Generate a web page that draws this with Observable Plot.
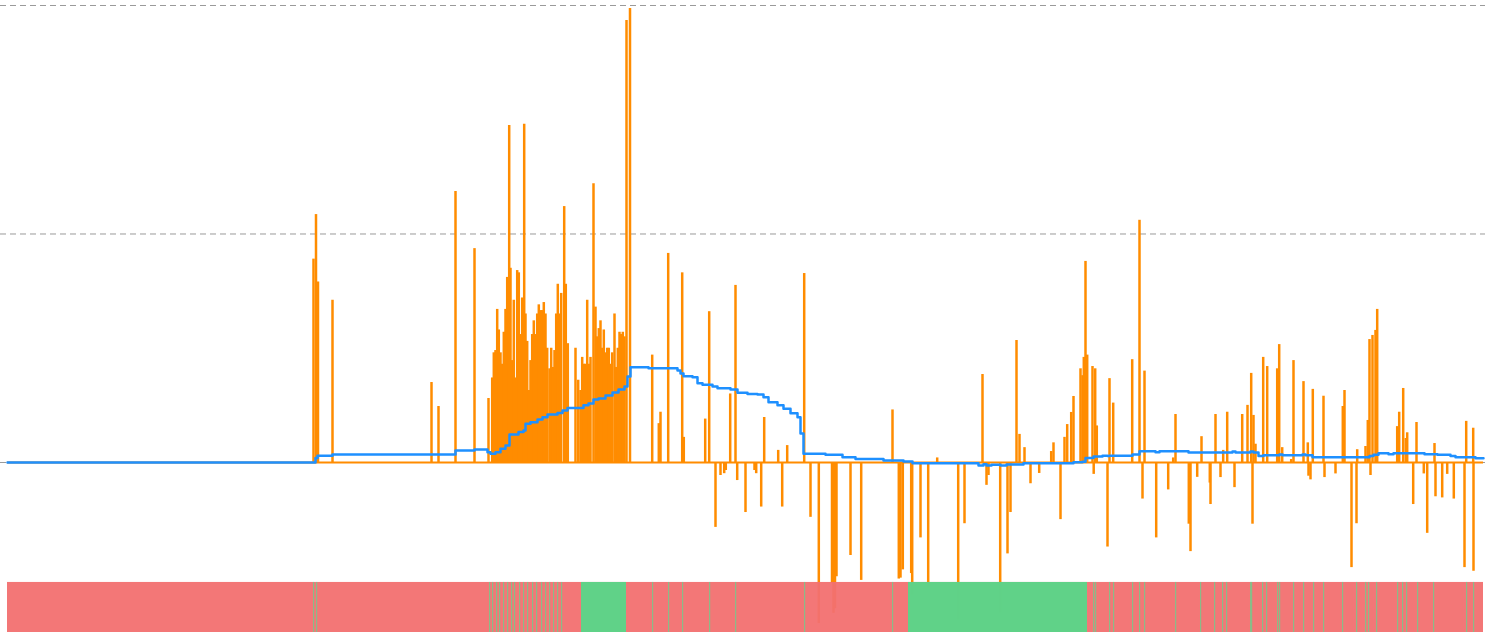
<!DOCTYPE html>
<html>
<head>
<meta charset="utf-8">
<script src="https://cdn.jsdelivr.net/npm/d3@7"></script>
<script src="https://cdn.jsdelivr.net/npm/@observablehq/plot@0.6"></script>
<style>
  html, body { margin: 0; padding: 0; background: #fff; overflow: hidden; }
  #chart svg { display: block; }
</style>
</head>
<body>
<div id="chart"></div>
<script>
// ---- data (time index) ----
const gridTicks = [0, 100, 200];

// orange series: non-zero samples [t, value]; all other samples are 0
const spikeT = [313,315.5,317.5,332,431,438,455,474,488,491.7,493.3,495,496.7,498.3,500,501.7,503.3,505,506.7,508.7,510,511.7,513.3,515,516.7,518.3,520,521.7,523.7,525,526.7,528.3,530,531.7,533.3,535,536.7,538.3,540,541.7,543.3,545,546.7,549,550.7,552.3,554,555.7,557.3,559,560.7,563.7,565.3,567.3,575,577.7,580,581.7,583.3,585,586.7,588.3,590,593,595,596.7,598.3,600,601.7,603.3,605,606.7,608.3,610,611.7,614,615.7,617.3,619,620.7,622.3,624,626,629.5,
651.7,658.3,660,667.7,681.7,683.3,704.7,708.7,715,720,723.7,725.3,729.7,735,736.7,745,754,755.7,760.7,763.7,777.7,781.7,786.7,803.7,810,818.3,831.5,833,834.5,836,850,860.7,892,898.3,900,902.3,
910.7,911.7,920,927.7,936.7,957.7,964,982,986,988,999.7,1007,1010,1016,1019,1024,1030,1038.7,1050.7,1053,1060,1064,1066.7,1070.7,1073,1080,1082,1083.3,1085,1086.7,1092,1093.2,1094.7,1096.3,1107,1109,1112.7,1131.7,1139,1142,1144,1155.7,1167.7,1172.7,1175,
1188.3,1190,1196.7,1201,1209.3,1210,1215,1220,1222.7,1226.7,1234,1241.7,1247,1250.7,1252,1253,1255,1262.7,1266.7,1276.7,1278.7,1281.7,1290.7,1293,1303,1307.3,1308,1310,1312.3,1323,1324,1335,1342.3,1344,1351,1356,1356.7,1365,1367.3,1369,1370,1372,1375,1376.7,1396.7,1398.7,1402.7,1405.3,1406.7,1412.7,1416,1423.3,1426.7,1434,1435,1441.7,1446.7,1453.3,1464,1465.7,1472.7,1473];
const spikeV = [89,108.5,79,71,35,24.5,118.6,93.6,28,37,48,49,67,58,48,43,57,67,81,147.5,85,44.6,71,37,84,83,56,72,148,65,53,31.5,44.6,56,62,56,65,69,66.5,66.5,70,65,50,41,50,41.6,49,65,78,65,74,112,78,52,50,36,31.5,46,43,43,71,43,46,122,68,55,58.6,62,50,58,48,50,50,43,48,65,41.6,50,57,56,57,55,193.4,198.7,
47,17,22,91.5,83,11,19,66,-28.4,-5.7,-4.9,-3.5,30,77.5,-7.9,-21.9,-3.5,-4.9,-19.5,19.7,5.3,-19.5,7.4,82.7,-24,-70.5,-53,-66,-64,-50,-40.7,-51.6,23,-51,-50.6,-47,
-48.6,-58,-33,-55,2,-69,-26.8,38.5,-10,-5.7,-66,-40,-21.9,53.4,12.3,6.5,-9.3,-4.8,4.8,8.6,-25,11,16.6,21.9,28.9,41,38,46,88,47,42,-5.2,41,16,-37,36.7,26,45,106,-16,40,-33,-12,2,21,
-27,-39,-6.5,11.3,-9,-18.4,21,-6.6,5.3,22,-11,21,25,39,-27,20.6,8,46,42,41,51.6,6.5,1.3,44.6,35.4,8.6,-6,-7.6,32,29,-6.6,-5,24.5,31.5,-46,-26.8,5.6,7,18.4,53.8,-5.7,55.6,57.8,67,15.7,22,32.4,10.5,13,-18.4,17.5,-5,-31,8.3,-15,-15.5,-5.2,-16,-46,18,15,-47.6];

// blue series (step line): [t, value]
const blueT = [7,313,315,317,332,455,474,487,490,495,500,505,509,518,523,525,530,537,542,547,557,562,567,583,588,593,598,605,612,618,624,627,630,648,677,680,683,692,697,702,712,717,730,737,747,757,763,768,777,783,790,797,800,803,825,842,855,883,903,912,978,983,986,991,1000,1006,1023,1073,1082,1085,1093,1102,1107,1109,1132,1139,1155,1159,1188,1232,1235,1250,1253,1258,1263,1279,1282,1302,1305,1312,1369,1373,1378,1388,1393,1424,1437,1450,1455,1475,1483];
const blueV = [0,0,2,3,3.5,5.3,5.7,4.5,3.8,4.5,6,7.4,12.3,13.3,14,17,17.6,18.8,19.8,21,21.7,22.8,23.9,25,25.8,27.6,28,29.3,30.6,32,33.3,37.6,41.7,41.3,40.3,39,37.8,37.3,34.7,34,33.3,32.5,32,30.5,30,29.8,28.6,26.4,25,23.5,21.6,19.8,12.7,3.8,3.4,2.3,1.5,0.9,0.4,-0.3,-1.3,-0.8,-1.3,-1,-1.3,-0.9,-0.3,0.1,0.3,2,2.6,3,2.8,3,3.5,4.9,4.5,4.9,4.4,4.8,4.4,4.8,4.4,2.8,3.2,3.5,3.2,3.5,3.2,2.3,2.8,3.4,4.1,3.6,4.1,3.6,3.4,2.8,2.3,1.9,1.9];

// state band: green blocks and single green samples; everything else red
const tStart = 7, tEnd = 1483;
const greenBlocks = [[581, 626], [908, 1087]];
const greenSamples = [313,316,489,492,496,499,503,507,511,514,519,523,527,532,536,541,545,549,553,557,561,652,668,682,709,735,804,892,1093,1095,1109,1113,1132,1139,1144,1175,1200,1214,1222,1226,1250,1251,1262,1266,1277,1279,1293,1303,1313,1323,1342,1356,1365,1368,1376,1397,1402,1406,1417,1433,1466,1473];

// ---- build tables ----
const spikes = spikeT.map((t, i) => ({t, v: spikeV[i]}));
const blue = blueT.map((t, i) => ({t, v: blueV[i]}));
const bandY1 = -52.5, bandY2 = -74.4;

const chart = Plot.plot({
  width: 1490,
  height: 633,
  marginLeft: 0,
  marginRight: 5,
  marginTop: 0,
  marginBottom: 0,
  x: {domain: [tStart, tEnd], range: [7, 1483], axis: null},
  y: {domain: [bandY2, 200], range: [632, 5], axis: null},
  marks: [
    Plot.ruleY(gridTicks, {stroke: "#9a9a9a", strokeWidth: 1, strokeDasharray: "6,4"}),
    Plot.ruleY([0], {x1: tStart, x2: tEnd, stroke: "#ff8c00", strokeWidth: 2.2}),
    Plot.ruleX(spikes, {x: "t", y1: 0, y2: "v", stroke: "#ff8c00", strokeWidth: 2.5}),
    Plot.line(blue, {x: "t", y: "v", curve: "step-after", stroke: "#1e90ff", strokeWidth: 2.5}),
    Plot.rect([{a: tStart, b: tEnd}], {x1: "a", x2: "b", y1: bandY1, y2: bandY2, fill: "#f27070", fillOpacity: 0.95}),
    Plot.rect(greenBlocks, {x1: d => d[0], x2: d => d[1], y1: bandY1, y2: bandY2, fill: "#5bd588", fillOpacity: 0.97}),
    Plot.rect(greenSamples, {x1: d => d, x2: d => d + 1.2, y1: bandY1, y2: bandY2, fill: "#79c78b", fillOpacity: 0.85})
  ]
});
document.getElementById("chart").appendChild(chart);
</script>
</body>
</html>
